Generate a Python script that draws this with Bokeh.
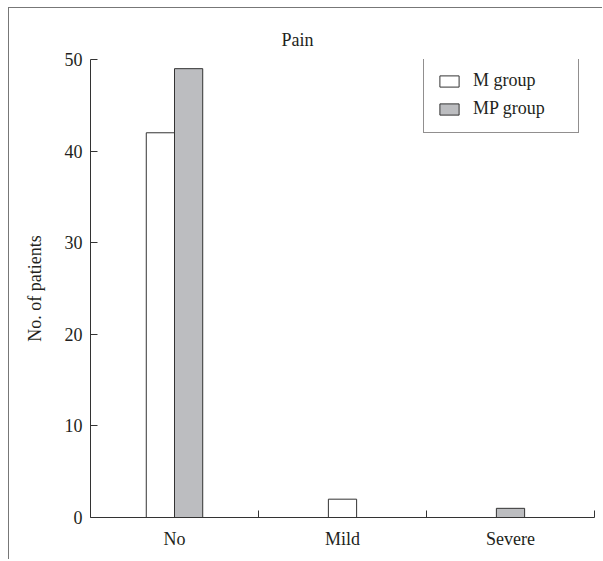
from bokeh.plotting import figure
from bokeh.models import ColumnDataSource, FixedTicker, Range1d, Legend, LegendItem
from bokeh.embed import file_html
from bokeh.resources import INLINE

# ---- data ----
categories = ["No", "Mild", "Severe"]
series_names = ["M group", "MP group"]
m_group = [42, 2, 0]
mp_group = [49, 0, 1]
y_ticks = [0, 10, 20, 30, 40, 50]

# ---- styles ----
FONT = "Liberation Serif"
TEXT = "#231f20"
fills = ["#ffffff", "#bcbdc0"]
bar_w = 0.168

series = [m_group, mp_group]

p = figure(width=594, height=552,
           x_range=Range1d(0, len(categories)), y_range=Range1d(0, 50),
           output_backend="svg", toolbar_location=None,
           min_border_left=81, min_border_right=9,
           min_border_top=51, min_border_bottom=43)
p.styles = {"margin-top": "7px", "margin-left": "8px",
            "border-top": "1px solid #777777", "border-left": "1px solid #777777"}

p.outline_line_color = None
p.xgrid.visible = False
p.ygrid.visible = False
p.background_fill_color = "white"
p.border_fill_color = "white"

# bars: side by side, only non-zero series shown, centred in each category
renderers = []
for s, vals in enumerate(series):
    xs, tops = [], []
    for i, cat in enumerate(categories):
        present = [k for k in range(len(series)) if series[k][i] > 0]
        if series[s][i] <= 0:
            continue
        k = present.index(s)
        n = len(present)
        xs.append(i + 0.5 + (k - (n - 1) / 2) * bar_w)
        tops.append(vals[i])
    src = ColumnDataSource(dict(x=xs, top=tops))
    r = p.vbar(x="x", top="top", bottom=0, width=bar_w, source=src,
               fill_color=fills[s], line_color="#333333", line_width=1)
    renderers.append(r)

# title
p.title.text = "Pain"
p.title.align = "left"
p.title.offset = 191
p.title.standoff = 19
p.title.text_font = FONT
p.title.text_font_size = "18px"
p.title.text_font_style = "normal"
p.title.text_color = TEXT

# x axis
xa = p.xaxis[0]
xa.ticker = FixedTicker(ticks=[i + 0.5 for i in range(len(categories))],
                        minor_ticks=[i + 1 for i in range(len(categories))])
xa.major_label_overrides = {i + 0.5: c for i, c in enumerate(categories)}
xa.major_tick_in = 0
xa.major_tick_out = 0
xa.minor_tick_in = 7
xa.minor_tick_out = 0
xa.minor_tick_line_color = "#333333"
xa.axis_line_color = "#333333"
xa.major_label_text_font = FONT
xa.major_label_text_font_size = "18px"
xa.major_label_text_color = TEXT
xa.major_label_standoff = 11

# y axis
ya = p.yaxis[0]
ya.ticker = FixedTicker(ticks=y_ticks)
ya.major_tick_in = 7
ya.major_tick_out = 0
ya.minor_tick_line_color = None
ya.axis_line_color = "#333333"
ya.major_tick_line_color = "#333333"
ya.major_label_text_font = FONT
ya.major_label_text_font_size = "18px"
ya.major_label_text_color = TEXT
ya.major_label_standoff = 8
ya.axis_label = "No. of patients"
ya.axis_label_text_font = FONT
ya.axis_label_text_font_size = "18px"
ya.axis_label_text_font_style = "normal"
ya.axis_label_text_color = TEXT
ya.axis_label_standoff = 17

# legend
legend = Legend(items=[LegendItem(label=n, renderers=[r]) for n, r in zip(series_names, renderers)],
                location=(333, 384))
legend.border_line_color = "#231f20"
legend.border_line_width = 1
legend.padding = 13
legend.spacing = 7
legend.glyph_width = 24
legend.glyph_height = 14
legend.label_height = 20
legend.label_width = 92
legend.label_standoff = 12
legend.label_text_font = FONT
legend.label_text_font_size = "18px"
legend.label_text_color = TEXT
legend.background_fill_alpha = 1
p.add_layout(legend)

open("out.html", "w").write(file_html(p, INLINE))
